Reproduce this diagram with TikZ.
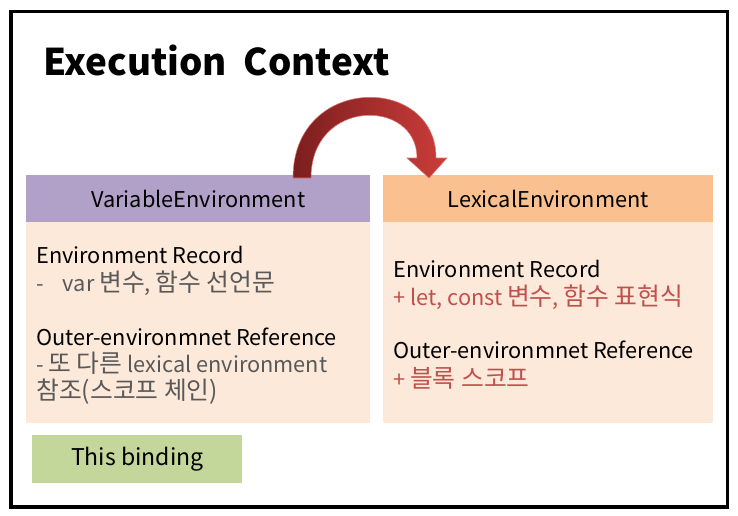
\documentclass[tikz,border=0pt]{standalone}
\usepackage{fontspec}
\setmainfont{Noto Sans CJK KR}
\newfontfamily\krfont[Scale=1.14]{Noto Sans CJK KR}
\usetikzlibrary{positioning}

\definecolor{varpurple}{HTML}{B1A0C7}
\definecolor{lexorange}{HTML}{FAC090}
\definecolor{bodypeach}{HTML}{FDE9D9}
\definecolor{bindgreen}{HTML}{C4D79B}
\definecolor{notegray}{HTML}{595959}
\definecolor{notered}{HTML}{C0504D}
\definecolor{arrowdark}{HTML}{7B1E1E}
\definecolor{arrowlight}{HTML}{CC3D3A}

\newcommand{\bodyfont}{\fontsize{16.3}{19}\selectfont}
\newcommand{\kr}[1]{{\krfont #1}}

\tikzset{
  headerbox/.style={anchor=north west, inner sep=0pt, minimum height=35.25pt, font=\bodyfont},
  panelbox/.style={anchor=north west, inner sep=0pt, fill=bodypeach, minimum height=150.75pt},
  textline/.style={anchor=base west, inner sep=0pt, font=\bodyfont},
}

\begin{document}
\begin{tikzpicture}[x=0.75pt, y=-0.75pt]
    \useasboundingbox (0,0) rectangle (738,515);

    % Frame
    \draw[line width=2.6pt] (11,11.5) rectangle (727.5,507);

    % Title
    \node[anchor=base west, inner sep=0pt, font=\fontsize{27.6}{32}\selectfont\bfseries] (title) at (43,75) {Execution\ \ Context};

    % Panels
    \node[panelbox, minimum width=258pt] (varbody) at (26,222) {};
    \node[panelbox, minimum width=247.5pt] (lexbody) at (383,222) {};

    % Headers
    \node[headerbox, fill=varpurple, minimum width=258pt] (varhead) at (26,175) {VariableEnvironment};
    \node[headerbox, fill=lexorange, minimum width=247.5pt] (lexhead) at (383,175) {LexicalEnvironment};

    % VariableEnvironment text
    \node[textline] (varrec) at (36,263) {Environment Record};
    \node[textline, text=notegray] (varrecnote) at (36,291) {\makebox[20pt][l]{-}var \kr{변수}, \kr{함수 선언문}};
    \node[textline] (varouter) at (36,345) {Outer-environmnet Reference};
    \node[textline, text=notegray] (varouternote) at (36,372) {- \kr{또 다른} lexical environment};
    \node[textline, text=notegray] (varouterref) at (36,399) {\kr{참조(스코프 체인)}};

    % LexicalEnvironment text
    \node[textline] (lexrec) at (393,277) {Environment Record};
    \node[textline, text=notered] (lexrecnote) at (393,305) {+ let, const \kr{변수}, \kr{함수 표현식}};
    \node[textline] (lexouter) at (393,358) {Outer-environmnet Reference};
    \node[textline, text=notered] (lexouternote) at (393,387) {+ \kr{블록 스코프}};

    % This binding
    \node[anchor=north west, inner sep=0pt, fill=bindgreen, minimum width=157.5pt, minimum height=36pt,
          font=\fontsize{17.3}{20}\selectfont] (binding) at (32,435) {This binding};

    % Curved arrow
    \shade[left color=arrowdark, right color=arrowlight, draw=arrowlight!70!white, line width=0.4pt]
        (293,178) .. controls (293,74) and (436,74) .. (436,158)
        -- (447,158) -- (429,178) -- (407,158) -- (417,158)
        .. controls (417,98) and (311,98) .. (311,178) -- cycle;
\end{tikzpicture}
\end{document}
